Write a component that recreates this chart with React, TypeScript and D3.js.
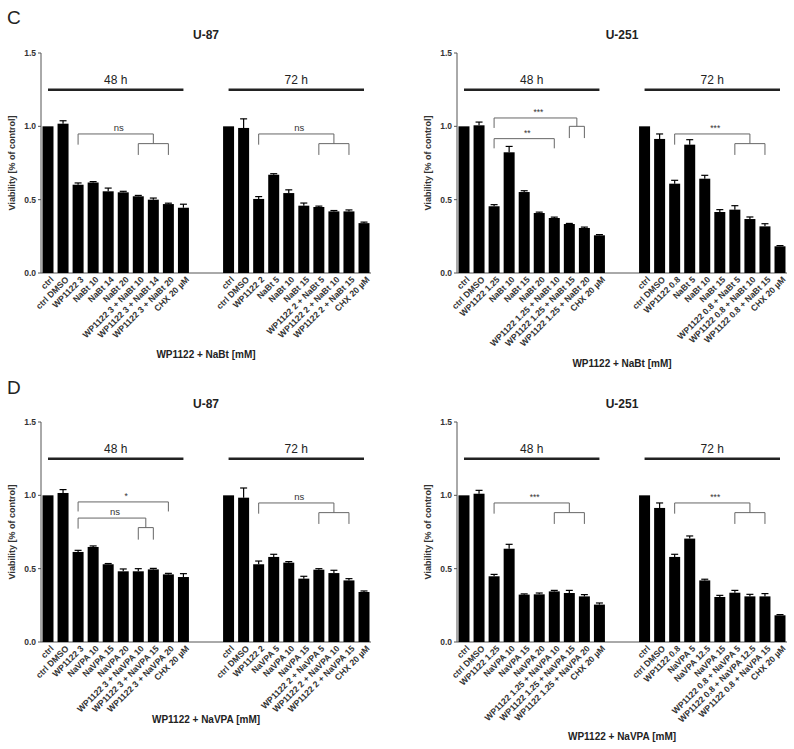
import React from 'react';
import * as d3 from 'd3';

// y ticks shared by every panel
const yTicks = [0, 0.5, 1.0, 1.5];

// --- C: WP1122 + NaBt ---
const u87NaBtLabels48 = ['ctrl', 'ctrl DMSO', 'WP1122 3', 'NaBt 10', 'NaBt 14', 'NaBt 20', 'WP1122 3 + NaBt 10', 'WP1122 3 + NaBt 14', 'WP1122 3 + NaBt 20', 'CHX 20 µM'];
const u87NaBtLabels72 = ['ctrl', 'ctrl DMSO', 'WP1122 2', 'NaBt 5', 'NaBt 10', 'NaBt 15', 'WP1122 2 + NaBt 5', 'WP1122 2 + NaBt 10', 'WP1122 2 + NaBt 15', 'CHX 20 µM'];
const u87NaBt48 = [1.0, 1.018, 0.602, 0.617, 0.557, 0.55, 0.523, 0.5, 0.47, 0.445];
const u87NaBtErr48 = [0, 0.02, 0.012, 0.006, 0.022, 0.007, 0.006, 0.011, 0.006, 0.024];
const u87NaBt72 = [1.0, 0.989, 0.505, 0.67, 0.545, 0.459, 0.45, 0.42, 0.42, 0.34];
const u87NaBtErr72 = [0, 0.062, 0.016, 0.007, 0.022, 0.018, 0.006, 0.006, 0.01, 0.007];

const u251NaBtLabels48 = ['ctrl', 'ctrl DMSO', 'WP1122 1.25', 'NaBt 10', 'NaBt 15', 'NaBt 20', 'WP1122 1.25 + NaBt 10', 'WP1122 1.25 + NaBt 15', 'WP1122 1.25 + NaBt 20', 'CHX 20 µM'];
const u251NaBtLabels72 = ['ctrl', 'ctrl DMSO', 'WP1122 0.8', 'NaBt 5', 'NaBt 10', 'NaBt 15', 'WP1122 0.8 + NaBt 5', 'WP1122 0.8 + NaBt 10', 'WP1122 0.8 + NaBt 15', 'CHX 20 µM'];
const u251NaBt48 = [1.0, 1.007, 0.455, 0.823, 0.552, 0.409, 0.375, 0.334, 0.307, 0.257];
const u251NaBtErr48 = [0, 0.022, 0.011, 0.04, 0.009, 0.006, 0.006, 0.004, 0.006, 0.005];
const u251NaBt72 = [1.0, 0.914, 0.609, 0.875, 0.643, 0.416, 0.432, 0.368, 0.318, 0.182];
const u251NaBtErr72 = [0, 0.034, 0.023, 0.034, 0.023, 0.016, 0.027, 0.014, 0.018, 0.005];

// --- D: WP1122 + NaVPA ---
const u87VpaLabels48 = ['ctrl', 'ctrl DMSO', 'WP1122 3', 'NaVPA 10', 'NaVPA 15', 'NaVPA 20', 'WP1122 3 + NaVPA 10', 'WP1122 3 + NaVPA 15', 'WP1122 3 + NaVPA 20', 'CHX 20 µM'];
const u87VpaLabels72 = ['ctrl', 'ctrl DMSO', 'WP1122 2', 'NaVPA 5', 'NaVPA 10', 'NaVPA 15', 'WP1122 2 + NaVPA 5', 'WP1122 2 + NaVPA 10', 'WP1122 2 + NaVPA 15', 'CHX 20 µM'];
const u87Vpa48 = [1.0, 1.016, 0.614, 0.648, 0.53, 0.482, 0.482, 0.495, 0.461, 0.443];
const u87VpaErr48 = [0, 0.023, 0.011, 0.007, 0.005, 0.016, 0.018, 0.007, 0.007, 0.023];
const u87Vpa72 = [1.0, 0.984, 0.53, 0.58, 0.541, 0.432, 0.493, 0.47, 0.42, 0.341];
const u87VpaErr72 = [0, 0.066, 0.022, 0.018, 0.007, 0.016, 0.007, 0.019, 0.012, 0.007];

const u251VpaLabels48 = ['ctrl', 'ctrl DMSO', 'WP1122 1.25', 'NaVPA 10', 'NaVPA 15', 'NaVPA 20', 'WP1122 1.25 + NaVPA 10', 'WP1122 1.25 + NaVPA 15', 'WP1122 1.25 + NaVPA 20', 'CHX 20 µM'];
const u251VpaLabels72 = ['ctrl', 'ctrl DMSO', 'WP1122 0.8', 'NaVPA 5', 'NaVPA 12.5', 'NaVPA 15', 'WP1122 0.8 + NaVPA 5', 'WP1122 0.8 + NaVPA 12.5', 'WP1122 0.8 + NaVPA 15', 'CHX 20 µM'];
const u251Vpa48 = [1.0, 1.011, 0.448, 0.636, 0.323, 0.325, 0.345, 0.334, 0.311, 0.255];
const u251VpaErr48 = [0, 0.023, 0.013, 0.03, 0.005, 0.009, 0.007, 0.018, 0.012, 0.011];
const u251Vpa72 = [1.0, 0.914, 0.58, 0.705, 0.42, 0.307, 0.336, 0.311, 0.311, 0.182];
const u251VpaErr72 = [0, 0.034, 0.018, 0.018, 0.008, 0.011, 0.016, 0.014, 0.019, 0.005];

// brackets: bar indices inside a time group, heights in viability units
// fork = main line from `from` to the middle of [subA, subB], sub bracket below
type Bracket = {
  group: 0 | 1; label: string; from: number; y: number; leg: number;
  to?: number; subA?: number; subB?: number; subY?: number; subLeg?: number;
};
const forkStd = (group: 0 | 1, label: string): Bracket => ({ group, label, from: 2, y: 0.948, leg: 0.875, subA: 6, subB: 8, subY: 0.882, subLeg: 0.805 });

const u87NaBtBrackets: Bracket[] = [forkStd(0, 'ns'), forkStd(1, 'ns')];
const u251NaBtBrackets: Bracket[] = [
  { group: 0, label: '***', from: 2, y: 1.057, leg: 0.989, subA: 7, subB: 8, subY: 1.0, subLeg: 0.92 },
  { group: 0, label: '**', from: 2, to: 6, y: 0.916, leg: 0.85 },
  forkStd(1, '***'),
];
const u87VpaBrackets: Bracket[] = [
  { group: 0, label: '*', from: 2, to: 8, y: 0.955, leg: 0.89 },
  { group: 0, label: 'ns', from: 2, y: 0.845, leg: 0.773, subA: 6, subB: 7, subY: 0.78, subLeg: 0.698 },
  forkStd(1, 'ns'),
];
const u251VpaBrackets: Bracket[] = [forkStd(0, '***'), forkStd(1, '***')];

const font = '"Liberation Sans", Arial, sans-serif';

type PanelProps = {
  axisX: number; baseY: number; title: string; xLabel: string; xLabelY: number;
  labels: string[][]; values: number[][]; errors: number[][]; brackets: Bracket[];
};

const Panel = ({ axisX, baseY, title, xLabel, xLabelY, labels, values, errors, brackets }: PanelProps) => {
  const y = d3.scaleLinear().domain([0, 1.5]).range([baseY, baseY - 220]);
  // 10 bars, 2 empty slots, 10 bars
  const x = d3.scaleBand<number>().domain(d3.range(22)).range([axisX, axisX + 330]).paddingInner(0.27).paddingOuter(0.1);
  const slot = (g: number, i: number) => (g === 0 ? i : 12 + i);
  const cx = (g: number, i: number) => (x(slot(g, i)) as number) + x.bandwidth() / 2;
  const bw = x.bandwidth();
  const gray = '#555';

  return (
    <g fontFamily={font}>
      <text x={axisX + 165} y={baseY - 234} textAnchor="middle" fontSize={12} fontWeight="bold" fill="#222">{title}</text>
      {/* y axis */}
      <line x1={axisX} x2={axisX} y1={y(0)} y2={y(1.5)} stroke={gray} strokeWidth={1} />
      {yTicks.map(t => (
        <g key={t}>
          <line x1={axisX - 3} x2={axisX} y1={y(t)} y2={y(t)} stroke={gray} />
          <text x={axisX - 5} y={y(t)} dy="0.35em" textAnchor="end" fontSize={8.5} fontWeight="bold" fill="#333">{t.toFixed(1)}</text>
        </g>
      ))}
      <text transform={`translate(${axisX - 26},${y(0.75)}) rotate(-90)`} textAnchor="middle" fontSize={9} fontWeight="bold" fill="#333">Viability [% of control]</text>
      {/* x axis */}
      <line x1={axisX} x2={axisX + 330} y1={y(0)} y2={y(0)} stroke={gray} strokeWidth={1} />
      {/* bars */}
      {values.map((vals, g) => vals.map((v, i) => {
        const c = cx(g, i);
        const e = errors[g][i];
        return (
          <g key={`${g}-${i}`}>
            <rect x={x(slot(g, i))} y={y(v)} width={bw} height={y(0) - y(v)} fill="#000" />
            {e > 0 && <line x1={c} x2={c} y1={y(v)} y2={y(v + e)} stroke="#000" strokeWidth={1.2} />}
            {e > 0 && <line x1={c - 3.5} x2={c + 3.5} y1={y(v + e)} y2={y(v + e)} stroke="#000" strokeWidth={1.2} />}
          </g>
        );
      }))}
      {/* tick labels */}
      {labels.map((labs, g) => labs.map((l, i) => (
        <text key={`l${g}-${i}`} transform={`translate(${cx(g, i) + 4},${baseY + 5}) rotate(-45)`} dy="0.35em" textAnchor="end" fontSize={8.7} fontWeight="bold" fill="#333">{l}</text>
      )))}
      <text x={axisX + 165} y={xLabelY} textAnchor="middle" fontSize={10} fontWeight="bold" fill="#222">{xLabel}</text>
      {/* time group lines */}
      {['48 h', '72 h'].map((lab, g) => (
        <g key={lab}>
          <line x1={cx(g, 0)} x2={cx(g, 9)} y1={y(1.25)} y2={y(1.25)} stroke="#222" strokeWidth={2.5} />
          <text x={(cx(g, 0) + cx(g, 9)) / 2} y={y(1.25) - 6} textAnchor="middle" fontSize={12} fill="#222">{lab}</text>
        </g>
      ))}
      {/* significance brackets */}
      {brackets.map((b, k) => {
        const x1 = cx(b.group, b.from);
        let x2: number;
        let d = `M${x1},${y(b.leg)}V${y(b.y)}`;
        if (b.to !== undefined) {
          x2 = cx(b.group, b.to);
          d += `H${x2}V${y(b.leg)}`;
        } else {
          const a = cx(b.group, b.subA as number);
          const c = cx(b.group, b.subB as number);
          x2 = (a + c) / 2;
          d += `H${x2}V${y(b.subY as number)}M${a},${y(b.subLeg as number)}V${y(b.subY as number)}H${c}V${y(b.subLeg as number)}`;
        }
        return (
          <g key={`b${k}`}>
            <path d={d} fill="none" stroke="#666" strokeWidth={1} />
            <text x={(x1 + x2) / 2 + 3} y={y(b.y) - 3} textAnchor="middle" fontSize={b.label === 'ns' ? 9.5 : 8.5} fill="#333">{b.label}</text>
          </g>
        );
      })}
    </g>
  );
};

export default function App() {
  return (
    <svg width={794} height={749} style={{ position: 'absolute', left: 0, top: 0, background: '#fff' }}>
      <rect width={794} height={749} fill="#fff" />
      <text x={7} y={24} fontFamily={font} fontSize={19} fill="#222">C</text>
      <text x={7} y={394} fontFamily={font} fontSize={19} fill="#222">D</text>
      <Panel axisX={41} baseY={273} title="U-87" xLabel="WP1122 + NaBt [mM]" xLabelY={358}
        labels={[u87NaBtLabels48, u87NaBtLabels72]} values={[u87NaBt48, u87NaBt72]} errors={[u87NaBtErr48, u87NaBtErr72]} brackets={u87NaBtBrackets} />
      <Panel axisX={457} baseY={273} title="U-251" xLabel="WP1122 + NaBt [mM]" xLabelY={367}
        labels={[u251NaBtLabels48, u251NaBtLabels72]} values={[u251NaBt48, u251NaBt72]} errors={[u251NaBtErr48, u251NaBtErr72]} brackets={u251NaBtBrackets} />
      <Panel axisX={41} baseY={642} title="U-87" xLabel="WP1122 + NaVPA [mM]" xLabelY={723}
        labels={[u87VpaLabels48, u87VpaLabels72]} values={[u87Vpa48, u87Vpa72]} errors={[u87VpaErr48, u87VpaErr72]} brackets={u87VpaBrackets} />
      <Panel axisX={457} baseY={642} title="U-251" xLabel="WP1122 + NaVPA [mM]" xLabelY={740}
        labels={[u251VpaLabels48, u251VpaLabels72]} values={[u251Vpa48, u251Vpa72]} errors={[u251VpaErr48, u251VpaErr72]} brackets={u251VpaBrackets} />
    </svg>
  );
}
